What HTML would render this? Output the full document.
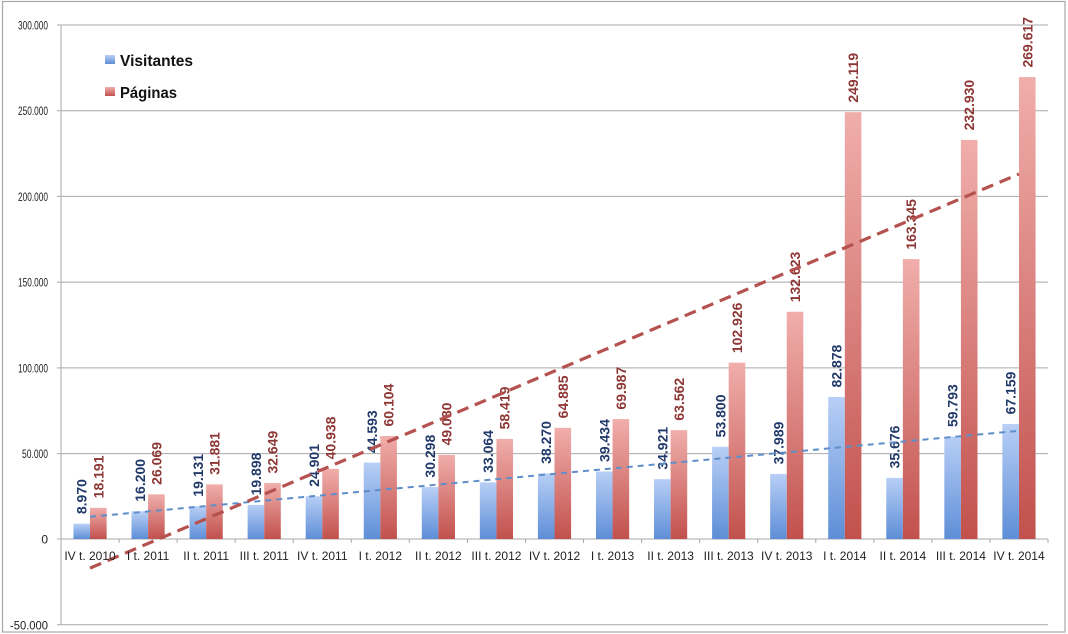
<!DOCTYPE html>
<html><head><meta charset="utf-8"><style>
html,body{margin:0;padding:0;background:#fff;}
svg{display:block;}
</style></head><body>
<svg width="1068" height="634" viewBox="0 0 1068 634" xmlns="http://www.w3.org/2000/svg">
<defs>
<linearGradient id="gb" x1="0" y1="0" x2="0" y2="1"><stop offset="0" stop-color="#b8cff6"/><stop offset="1" stop-color="#5e8ed7"/></linearGradient>
<linearGradient id="gr" x1="0" y1="0" x2="0" y2="1"><stop offset="0" stop-color="#f0aeab"/><stop offset="1" stop-color="#c2514d"/></linearGradient>
</defs>
<rect x="0" y="0" width="1068" height="634" fill="#fff"/>
<rect x="2.5" y="1.5" width="1062.5" height="630.5" fill="none" stroke="#a8a8a8" stroke-width="1.2"/>
<!-- gridlines -->
<g stroke="#a9a9a9" stroke-width="1">
<line x1="57" y1="25" x2="1048" y2="25"/>
<line x1="57" y1="110.7" x2="1048" y2="110.7"/>
<line x1="57" y1="196.4" x2="1048" y2="196.4"/>
<line x1="57" y1="282.1" x2="1048" y2="282.1"/>
<line x1="57" y1="367.9" x2="1048" y2="367.9"/>
<line x1="57" y1="453.6" x2="1048" y2="453.6"/>
<line x1="57" y1="539" x2="1048" y2="539"/>
<line x1="57" y1="624.8" x2="1048" y2="624.8"/>
<line x1="61" y1="25" x2="61" y2="625"/>
</g>
<g stroke="#a9a9a9" stroke-width="1">
<line x1="61" y1="539" x2="61" y2="543"/><line x1="119.06" y1="539" x2="119.06" y2="543"/><line x1="177.12" y1="539" x2="177.12" y2="543"/><line x1="235.18" y1="539" x2="235.18" y2="543"/><line x1="293.24" y1="539" x2="293.24" y2="543"/><line x1="351.3" y1="539" x2="351.3" y2="543"/><line x1="409.35" y1="539" x2="409.35" y2="543"/><line x1="467.41" y1="539" x2="467.41" y2="543"/><line x1="525.47" y1="539" x2="525.47" y2="543"/><line x1="583.53" y1="539" x2="583.53" y2="543"/><line x1="641.59" y1="539" x2="641.59" y2="543"/><line x1="699.65" y1="539" x2="699.65" y2="543"/><line x1="757.71" y1="539" x2="757.71" y2="543"/><line x1="815.77" y1="539" x2="815.77" y2="543"/><line x1="873.83" y1="539" x2="873.83" y2="543"/><line x1="931.89" y1="539" x2="931.89" y2="543"/><line x1="989.94" y1="539" x2="989.94" y2="543"/><line x1="1048" y1="539" x2="1048" y2="543"/>
</g>
<!-- y labels -->
<g font-family="Liberation Sans, sans-serif" font-size="12" fill="#222" text-anchor="end">
<text x="48" y="29.5" textLength="30" lengthAdjust="spacingAndGlyphs">300.000</text>
<text x="48" y="115.2" textLength="30" lengthAdjust="spacingAndGlyphs">250.000</text>
<text x="48" y="200.9" textLength="30" lengthAdjust="spacingAndGlyphs">200.000</text>
<text x="48" y="286.6" textLength="30" lengthAdjust="spacingAndGlyphs">150.000</text>
<text x="48" y="372.4" textLength="30" lengthAdjust="spacingAndGlyphs">100.000</text>
<text x="48" y="458.1" textLength="26" lengthAdjust="spacingAndGlyphs">50.000</text>
<text x="48" y="543.5">0</text>
<text x="48" y="629.3" textLength="38" lengthAdjust="spacingAndGlyphs">-50.000</text>
</g>
<!-- blue bars -->
<g fill="url(#gb)">
<rect x="73.44" y="523.63" width="16.59" height="15.37"/>
<rect x="131.50" y="511.24" width="16.59" height="27.76"/>
<rect x="189.56" y="506.22" width="16.59" height="32.78"/>
<rect x="247.62" y="504.91" width="16.59" height="34.09"/>
<rect x="305.68" y="496.34" width="16.59" height="42.66"/>
<rect x="363.74" y="462.60" width="16.59" height="76.40"/>
<rect x="421.79" y="487.09" width="16.59" height="51.91"/>
<rect x="479.85" y="482.35" width="16.59" height="56.65"/>
<rect x="537.91" y="473.43" width="16.59" height="65.57"/>
<rect x="595.97" y="471.44" width="16.59" height="67.56"/>
<rect x="654.03" y="479.17" width="16.59" height="59.83"/>
<rect x="712.09" y="446.82" width="16.59" height="92.18"/>
<rect x="770.15" y="473.91" width="16.59" height="65.09"/>
<rect x="828.21" y="397.00" width="16.59" height="142.00"/>
<rect x="886.27" y="477.87" width="16.59" height="61.13"/>
<rect x="944.33" y="436.55" width="16.59" height="102.45"/>
<rect x="1002.38" y="423.93" width="16.59" height="115.07"/>
</g>
<!-- red bars -->
<g fill="url(#gr)">
<rect x="90.03" y="507.83" width="16.59" height="31.17"/>
<rect x="148.09" y="494.33" width="16.59" height="44.67"/>
<rect x="206.15" y="484.38" width="16.59" height="54.62"/>
<rect x="264.21" y="483.06" width="16.59" height="55.94"/>
<rect x="322.27" y="468.86" width="16.59" height="70.14"/>
<rect x="380.33" y="436.02" width="16.59" height="102.98"/>
<rect x="438.38" y="454.91" width="16.59" height="84.09"/>
<rect x="496.44" y="438.91" width="16.59" height="100.09"/>
<rect x="554.50" y="427.83" width="16.59" height="111.17"/>
<rect x="612.56" y="419.09" width="16.59" height="119.91"/>
<rect x="670.62" y="430.10" width="16.59" height="108.90"/>
<rect x="728.68" y="362.65" width="16.59" height="176.35"/>
<rect x="786.74" y="311.77" width="16.59" height="227.23"/>
<rect x="844.80" y="112.18" width="16.59" height="426.82"/>
<rect x="902.86" y="259.14" width="16.59" height="279.86"/>
<rect x="960.92" y="139.91" width="16.59" height="399.09"/>
<rect x="1018.97" y="77.06" width="16.59" height="461.94"/>
</g>
<!-- value labels -->
<g font-family="Liberation Sans, sans-serif" font-size="14" font-weight="bold" fill="#21396a">
<text transform="translate(86.74,514.13) rotate(-90)">8.970</text>
<text transform="translate(144.80,501.74) rotate(-90)">16.200</text>
<text transform="translate(202.86,496.72) rotate(-90)">19.131</text>
<text transform="translate(260.92,495.41) rotate(-90)">19.898</text>
<text transform="translate(318.98,486.84) rotate(-90)">24.901</text>
<text transform="translate(377.04,453.10) rotate(-90)">44.593</text>
<text transform="translate(435.09,477.59) rotate(-90)">30.298</text>
<text transform="translate(493.15,472.85) rotate(-90)">33.064</text>
<text transform="translate(551.21,463.93) rotate(-90)">38.270</text>
<text transform="translate(609.27,461.94) rotate(-90)">39.434</text>
<text transform="translate(667.33,469.67) rotate(-90)">34.921</text>
<text transform="translate(725.39,437.32) rotate(-90)">53.800</text>
<text transform="translate(783.45,464.41) rotate(-90)">37.989</text>
<text transform="translate(841.51,387.50) rotate(-90)">82.878</text>
<text transform="translate(899.57,468.37) rotate(-90)">35.676</text>
<text transform="translate(957.63,427.05) rotate(-90)">59.793</text>
<text transform="translate(1015.68,414.43) rotate(-90)">67.159</text>
</g>
<g font-family="Liberation Sans, sans-serif" font-size="14" font-weight="bold" fill="#8e3634">
<text transform="translate(103.33,498.33) rotate(-90)">18.191</text>
<text transform="translate(161.39,484.83) rotate(-90)">26.069</text>
<text transform="translate(219.45,474.88) rotate(-90)">31.881</text>
<text transform="translate(277.51,473.56) rotate(-90)">32.649</text>
<text transform="translate(335.57,459.36) rotate(-90)">40.938</text>
<text transform="translate(393.63,426.52) rotate(-90)">60.104</text>
<text transform="translate(451.68,445.41) rotate(-90)">49.080</text>
<text transform="translate(509.74,429.41) rotate(-90)">58.419</text>
<text transform="translate(567.80,418.33) rotate(-90)">64.885</text>
<text transform="translate(625.86,409.59) rotate(-90)">69.987</text>
<text transform="translate(683.92,420.60) rotate(-90)">63.562</text>
<text transform="translate(741.98,353.15) rotate(-90)">102.926</text>
<text transform="translate(800.04,302.27) rotate(-90)">132.623</text>
<text transform="translate(858.10,102.68) rotate(-90)">249.119</text>
<text transform="translate(916.16,249.64) rotate(-90)">163.345</text>
<text transform="translate(974.22,130.41) rotate(-90)">232.930</text>
<text transform="translate(1032.27,67.56) rotate(-90)">269.617</text>
</g>
<!-- trendlines -->
<line x1="90.03" y1="516.8" x2="1018.97" y2="430.8" stroke="#5f8dca" stroke-width="2" stroke-dasharray="6 5"/>
<line x1="90.03" y1="568.1" x2="1018.97" y2="174.0" stroke="#b5524f" stroke-width="3.2" stroke-dasharray="12 7"/>
<!-- category labels -->
<g font-family="Liberation Sans, sans-serif" font-size="12" fill="#222" text-anchor="middle">
<text x="90.03" y="560">IV t. 2010</text>
<text x="148.09" y="560">I t. 2011</text>
<text x="206.15" y="560">II t. 2011</text>
<text x="264.21" y="560">III t. 2011</text>
<text x="322.27" y="560">IV t. 2011</text>
<text x="380.33" y="560">I t. 2012</text>
<text x="438.38" y="560">II t. 2012</text>
<text x="496.44" y="560">III t. 2012</text>
<text x="554.50" y="560">IV t. 2012</text>
<text x="612.56" y="560">I t. 2013</text>
<text x="670.62" y="560">II t. 2013</text>
<text x="728.68" y="560">III t. 2013</text>
<text x="786.74" y="560">IV t. 2013</text>
<text x="844.80" y="560">I t. 2014</text>
<text x="902.86" y="560">II t. 2014</text>
<text x="960.92" y="560">III t. 2014</text>
<text x="1018.97" y="560">IV t. 2014</text>
</g>
<!-- legend -->
<rect x="105" y="55" width="10" height="9" fill="url(#gb)"/>
<rect x="105" y="87" width="10" height="9" fill="url(#gr)"/>
<g font-family="Liberation Sans, sans-serif" font-size="16" font-weight="bold" fill="#111">
<text x="120" y="66" textLength="73" lengthAdjust="spacingAndGlyphs">Visitantes</text>
<text x="120" y="98" textLength="57" lengthAdjust="spacingAndGlyphs">Páginas</text>
</g>
</svg>
</body></html>
